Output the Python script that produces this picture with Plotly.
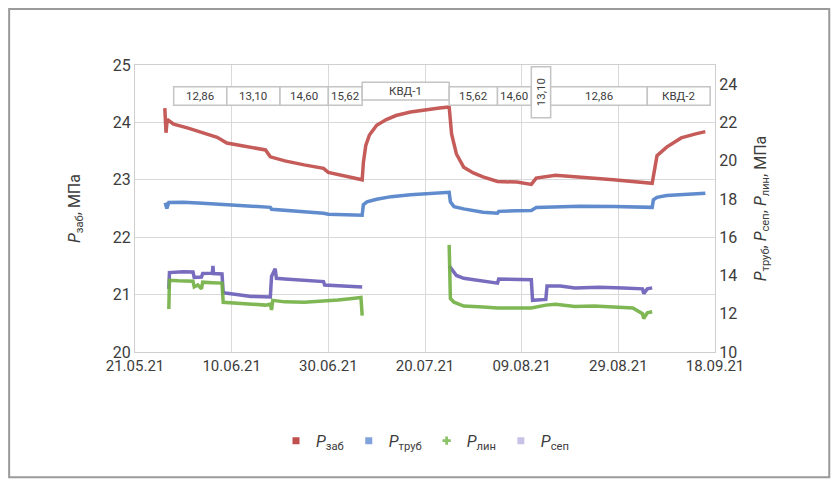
import plotly.graph_objects as go
import pandas as pd

# ---------------- data ----------------
red_dates = ["2021-05-27 00:00", "2021-05-27 02:00", "2021-05-27 04:00", "2021-05-27 10:00", "2021-05-27 16:00",
             "2021-05-29", "2021-06-01", "2021-06-04", "2021-06-07", "2021-06-09", "2021-06-12", "2021-06-15",
             "2021-06-17", "2021-06-18", "2021-06-21", "2021-06-25", "2021-06-29", "2021-06-30", "2021-07-03",
             "2021-07-07 00:00", "2021-07-07 06:00", "2021-07-07 18:00", "2021-07-08 12:00", "2021-07-10",
             "2021-07-12", "2021-07-14", "2021-07-17", "2021-07-20", "2021-07-23", "2021-07-25 00:00",
             "2021-07-25 06:00", "2021-07-25 12:00", "2021-07-26 12:00", "2021-07-28", "2021-07-30",
             "2021-08-01", "2021-08-04", "2021-08-08", "2021-08-11", "2021-08-12", "2021-08-16", "2021-08-21",
             "2021-08-28", "2021-09-05 00:00", "2021-09-05 12:00", "2021-09-06", "2021-09-08", "2021-09-11",
             "2021-09-14", "2021-09-16"]
red_vals = [24.68, None, 24.25, 23.82, 24.05,
            23.97, 23.9, 23.82, 23.74, 23.64, 23.59, 23.55,
            23.52, 23.4, 23.33, 23.26, 23.2, 23.13, 23.07,
            23.0, 23.3, 23.6, 23.78, 23.95,
            24.05, 24.12, 24.18, 24.22, 24.25, 24.27,
            24.05, 23.8, 23.45, 23.22, 23.12,
            23.05, 22.97, 22.96, 22.92, 23.03, 23.08, 23.05,
            23.0, 22.94, 23.2, 23.42, 23.57, 23.73,
            23.8, 23.84]

blue_dates = ["2021-05-27 00:00", "2021-05-27 02:00", "2021-05-27 06:00", "2021-05-27 14:00", "2021-05-28",
              "2021-05-31", "2021-06-04", "2021-06-08", "2021-06-09", "2021-06-13", "2021-06-18 00:00",
              "2021-06-18 06:00", "2021-06-22", "2021-06-26", "2021-06-29", "2021-06-30", "2021-07-04",
              "2021-07-07 00:00", "2021-07-07 06:00", "2021-07-08", "2021-07-10", "2021-07-13", "2021-07-17",
              "2021-07-21", "2021-07-25 00:00", "2021-07-25 06:00", "2021-07-26", "2021-07-28", "2021-08-01",
              "2021-08-04 00:00", "2021-08-04 06:00", "2021-08-08", "2021-08-11", "2021-08-12", "2021-08-16",
              "2021-08-21", "2021-08-28", "2021-09-05 00:00", "2021-09-05 06:00", "2021-09-06", "2021-09-08",
              "2021-09-12", "2021-09-16"]
blue_vals = [18.35, None, 17.8, 17.5, 17.82,
             17.83, 17.78, 17.72, 17.68, 17.62, 17.56,
             17.46, 17.4, 17.32, 17.25, 17.2, 17.18,
             17.15, 17.7, 17.85, 17.98, 18.12, 18.22,
             18.3, 18.35, 17.85, 17.6, 17.48, 17.3,
             17.25, 17.35, 17.38, 17.4, 17.55, 17.6,
             17.62, 17.6, 17.56, 17.95, 18.08, 18.18,
             18.26, 18.3]

green_dates = ["2021-05-28 00:00", "2021-05-28 03:00", "2021-05-30", "2021-06-02 00:00", "2021-06-02 06:00",
               "2021-06-03", "2021-06-03 18:00", "2021-06-04 00:00", "2021-06-06", "2021-06-08 00:00",
               "2021-06-08 06:00", "2021-06-11", "2021-06-14", "2021-06-17", "2021-06-18 00:00",
               "2021-06-18 06:00", "2021-06-18 12:00", "2021-06-21", "2021-06-25", "2021-06-29", "2021-07-02",
               "2021-07-05", "2021-07-06 18:00", "2021-07-07 00:00", "2021-07-07 06:00",
               "2021-07-25 00:00", "2021-07-25 06:00", "2021-07-26", "2021-07-28", "2021-08-01", "2021-08-04",
               "2021-08-08", "2021-08-11", "2021-08-14", "2021-08-16", "2021-08-20", "2021-08-24",
               "2021-08-28", "2021-09-01", "2021-09-03 00:00", "2021-09-03 06:00", "2021-09-04", "2021-09-05"]
green_vals = [12.25, 13.75, 13.72, 13.7, 13.4,
              13.5, 13.3, 13.65, 13.62, 13.6,
              12.6, 12.55, 12.5, 12.45, 12.5,
              12.2, 12.7, 12.62, 12.6, 12.65, 12.72,
              12.8, 12.85, 11.9, None,
              15.6, 12.8, 12.6, 12.4, 12.35, 12.3,
              12.3, 12.3, 12.45, 12.5, 12.38, 12.4,
              12.35, 12.3, 12.0, 11.75, 12.05, 12.1]

purple_dates = ["2021-05-28 00:00", "2021-05-28 03:00", "2021-05-31", "2021-06-02 00:00", "2021-06-02 06:00",
                "2021-06-03 18:00", "2021-06-04 00:00", "2021-06-06 00:00", "2021-06-06 03:00",
                "2021-06-06 06:00", "2021-06-08 00:00", "2021-06-08 06:00", "2021-06-11", "2021-06-14",
                "2021-06-18 00:00", "2021-06-18 06:00", "2021-06-19 00:00", "2021-06-19 06:00", "2021-06-21",
                "2021-06-25", "2021-06-29 00:00", "2021-06-29 06:00", "2021-07-03", "2021-07-07 00:00",
                "2021-07-07 06:00", "2021-07-25 00:00", "2021-07-26 12:00", "2021-07-28", "2021-08-01",
                "2021-08-04 00:00", "2021-08-04 06:00", "2021-08-08", "2021-08-11 00:00", "2021-08-11 06:00",
                "2021-08-14 00:00", "2021-08-14 06:00", "2021-08-17", "2021-08-20", "2021-08-25",
                "2021-08-30", "2021-09-03 00:00", "2021-09-03 06:00", "2021-09-04", "2021-09-05"]
purple_vals = [13.3, 14.15, 14.2, 14.18, 13.9,
               13.92, 14.1, 14.12, 14.5,
               14.1, 14.08, 13.1, 13.0, 12.9,
               12.88, 13.95, 14.35, 13.85, 13.82,
               13.75, 13.68, 13.5, 13.45, 13.4,
               None, 14.5, 14.0, 13.85, 13.7,
               13.6, 13.82, 13.8, 13.78, 12.7,
               12.75, 13.45, 13.45, 13.35, 13.38,
               13.35, 13.3, 13.05, 13.3, 13.35]

series_names = ["<i>P</i><sub>заб</sub>", "<i>P</i><sub>труб</sub>", "<i>P</i><sub>лин</sub>", "<i>P</i><sub>сеп</sub>"]

# regime labels (start, end, text)
regime_starts = ["2021-05-29", "2021-06-09", "2021-06-20", "2021-06-30", "2021-07-07",
                 "2021-07-25", "2021-08-04", "2021-08-11", "2021-08-15", "2021-09-04"]
regime_ends = ["2021-06-09", "2021-06-20", "2021-06-30", "2021-07-07", "2021-07-25",
               "2021-08-04", "2021-08-11", "2021-08-15", "2021-09-04", "2021-09-17"]
regime_labels = ["12,86", "13,10", "14,60", "15,62", "КВД-1", "15,62", "14,60", "13,10", "12,86", "КВД-2"]

x_tick_start = "2021-05-21"
x_end = "2021-09-18"

# ---------------- styles ----------------
FONT = "Roboto, Liberation Sans Narrow, sans-serif"
TXT = "#3c3c3c"
GRID = "#d9d9d9"
colors = ["#BF4B48", "#4F7FC8", "#72B043", "#6A5DB8"]
legend_colors = ["#C0504D", "#7FA3DA", "#8CC26A", "#C9C2E6"]
legend_symbols = ["square", "square", "cross", "square"]

fig = go.Figure()
fig.add_trace(go.Scatter(x=red_dates, y=red_vals, mode="lines", yaxis="y",
                         line=dict(color=colors[0], width=3.5), opacity=0.9, showlegend=False))
fig.add_trace(go.Scatter(x=blue_dates, y=blue_vals, mode="lines", yaxis="y2",
                         line=dict(color=colors[1], width=3.5), opacity=0.9, showlegend=False))
fig.add_trace(go.Scatter(x=purple_dates, y=purple_vals, mode="lines", yaxis="y2",
                         line=dict(color=colors[3], width=3.5), opacity=0.9, showlegend=False))
fig.add_trace(go.Scatter(x=green_dates, y=green_vals, mode="lines", yaxis="y2",
                         line=dict(color=colors[2], width=3.5), opacity=0.9, showlegend=False))

# legend entries
for name, c, s in zip(series_names, legend_colors, legend_symbols):
    fig.add_trace(go.Scatter(x=[None], y=[None], mode="markers", name=name,
                             marker=dict(color=c, symbol=s, size=7), showlegend=True))

# regime boxes with centered labels
for i, (s, e, t) in enumerate(zip(regime_starts, regime_ends, regime_labels)):
    if t == "КВД-1":
        y0, y1 = 24.39, 24.70
    elif i == 7:
        y0, y1 = 24.08, 24.97
    else:
        y0, y1 = 24.30, 24.62
    fig.add_shape(type="rect", xref="x", yref="y", x0=s, x1=e, y0=y0, y1=y1,
                  fillcolor="white", line=dict(color="#c4c4c4", width=1.5), layer="above")
    mid = pd.Timestamp(s) + (pd.Timestamp(e) - pd.Timestamp(s)) / 2
    fig.add_annotation(xref="x", yref="y", x=mid, y=(y0 + y1) / 2, text=t, showarrow=False,
                       font=dict(family=FONT, size=11.5, color=TXT),
                       textangle=-90 if i == 7 else 0)

# outer frame
fig.add_shape(type="rect", xref="paper", yref="paper", x0=-0.217, x1=1.197, y0=-0.436, y1=1.195,
              line=dict(color="#9a9a9a", width=2), fillcolor="rgba(0,0,0,0)")

fig.update_layout(
    width=831, height=478,
    margin=dict(l=127, r=124, t=57, b=134),
    paper_bgcolor="white", plot_bgcolor="white",
    font=dict(family=FONT, color=TXT, size=15),
    xaxis=dict(type="date", range=[x_tick_start, x_end], tick0=x_tick_start, dtick=20 * 86400000,
               tickformat="%d.%m.%y", showgrid=True, gridcolor=GRID, gridwidth=1,
               showline=True, linecolor="#cfcfcf", mirror=True, ticks="", zeroline=False,
               tickfont=dict(family=FONT, size=15, color=TXT)),
    yaxis=dict(range=[20, 25], dtick=1, showgrid=True, gridcolor=GRID, gridwidth=1,
               showline=True, linecolor="#cfcfcf", ticks="", zeroline=False,
               tickfont=dict(family=FONT, size=16, color=TXT),
               title=dict(text="<i>P</i><sub>заб</sub>, МПа", font=dict(family=FONT, size=16, color=TXT),
                          standoff=28)),
    yaxis2=dict(range=[10, 25], tick0=10, dtick=2, overlaying="y", side="right", showgrid=False,
                showline=True, linecolor="#cfcfcf", ticks="", zeroline=False,
                tickfont=dict(family=FONT, size=16, color=TXT),
                title=dict(text="<i>P</i><sub>труб</sub>, <i>P</i><sub>сеп</sub>, <i>P</i><sub>лин</sub>, МПа",
                           font=dict(family=FONT, size=16, color=TXT), standoff=18)),
    legend=dict(orientation="h", x=0.5, xanchor="center", y=-0.25, yanchor="top",
                font=dict(family=FONT, size=16, color=TXT), itemwidth=30),
)

fig.write_html("out.html")
